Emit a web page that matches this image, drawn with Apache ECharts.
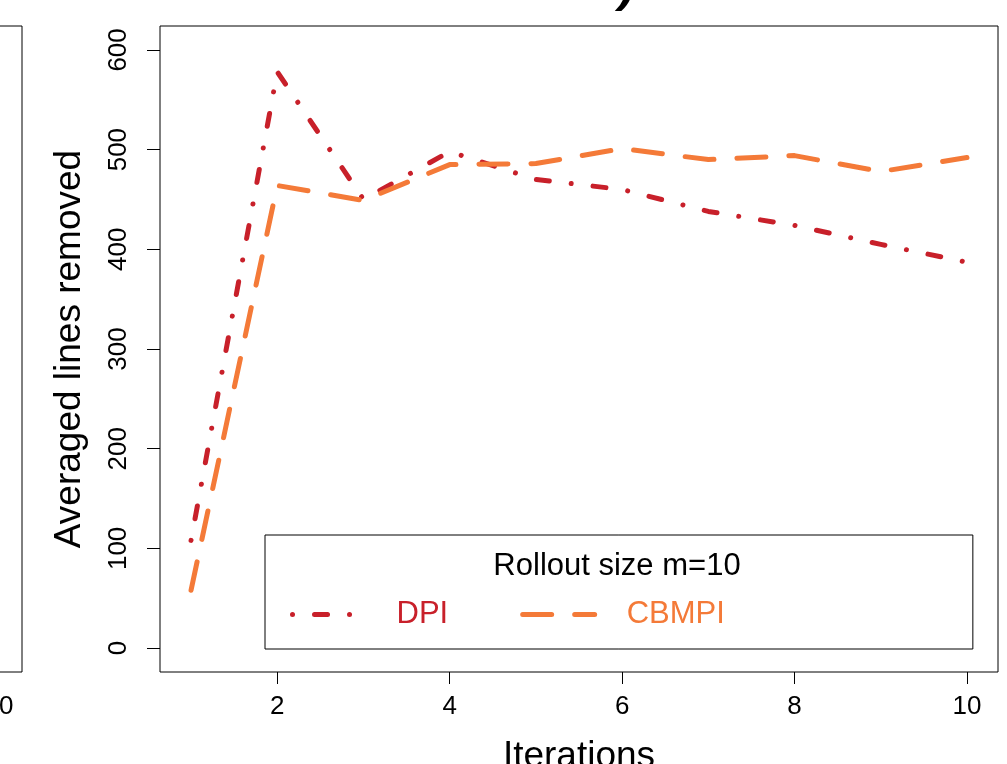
<!DOCTYPE html>
<html>
<head>
<meta charset="utf-8">
<script src="https://cdn.jsdelivr.net/npm/echarts@6/dist/echarts.min.js"></script>
<style>
html,body{margin:0;padding:0;background:#fff;}
#chart{width:1007px;height:764px;}
</style>
</head>
<body>
<div id="chart"></div>
<script>
const iterations = [1, 2, 3, 4, 5, 6, 7, 8, 9, 10];
const dpiValues = [108, 578, 450, 498, 470, 460, 438, 424, 405, 387];
const cbmpiValues = [58, 464, 449, 485, 486, 501, 490, 494, 478, 492];
const xTicks = [2, 4, 6, 8, 10];
const yTicks = [0, 100, 200, 300, 400, 500, 600];
const leftPanelXTicks = [10];
const seriesNames = ['DPI', 'CBMPI'];
const legendTitle = 'Rollout size m=10';
const xTitle = 'Iterations';
const yTitle = 'Averaged lines removed';

const RED = '#C8202A';
const ORANGE = '#F47A38';
const FONT = '"Liberation Sans", Arial, Helvetica, sans-serif';

const chart = echarts.init(document.getElementById('chart'), null, {renderer: 'canvas'});

const option = {
  backgroundColor: '#fff',
  animation: false,
  textStyle: {fontFamily: FONT, color: '#000'},
  title: [
    {
      text: legendTitle,
      left: 617, top: 551, textAlign: 'center', padding: 0,
      textStyle: {fontFamily: FONT, fontSize: 31, fontWeight: 'normal', color: '#000'}
    },
    {
      text: ')',
      left: 619, top: -36, padding: 0,
      textStyle: {fontFamily: FONT, fontSize: 48, fontWeight: 'bold', fontStyle: 'italic', color: '#000'}
    }
  ],
  grid: [
    {left: 160, right: 9, top: 26, bottom: 92, show: true, borderColor: '#000', borderWidth: 1,
     backgroundColor: 'transparent', containLabel: false, outerBoundsMode: 'none'},
    {left: -599, right: 985, top: 26, bottom: 92, show: true, borderColor: '#000', borderWidth: 1,
     backgroundColor: 'transparent', containLabel: false, outerBoundsMode: 'none'}
  ],
  xAxis: [
    {
      type: 'value', gridIndex: 0, min: 0.64, max: 10.36, position: 'bottom',
      name: xTitle, nameLocation: 'middle', nameGap: 66,
      nameTextStyle: {fontFamily: FONT, fontSize: 37, color: '#000'},
      axisLine: {show: false, onZero: false},
      axisTick: {show: true, length: 12, inside: false, customValues: xTicks, lineStyle: {color: '#000', width: 1}},
      axisLabel: {show: true, customValues: xTicks, margin: 22, fontFamily: FONT, fontSize: 26, color: '#000'},
      splitLine: {show: false}
    },
    {
      type: 'value', gridIndex: 1, min: 0.64, max: 10.36, position: 'bottom',
      axisLine: {show: false, onZero: false},
      axisTick: {show: true, length: 12, inside: false, customValues: leftPanelXTicks, lineStyle: {color: '#000', width: 1}},
      axisLabel: {show: true, customValues: leftPanelXTicks, margin: 22, fontFamily: FONT, fontSize: 26, color: '#000'},
      splitLine: {show: false}
    }
  ],
  yAxis: [
    {
      type: 'value', gridIndex: 0, min: -24, max: 624, position: 'left',
      name: yTitle, nameLocation: 'middle', nameGap: 72, nameRotate: 90,
      nameTextStyle: {fontFamily: FONT, fontSize: 37, color: '#000'},
      axisLine: {show: false, onZero: false},
      axisTick: {show: true, length: 13, inside: false, customValues: yTicks, lineStyle: {color: '#000', width: 1}},
      axisLabel: {show: true, customValues: yTicks, rotate: 90, margin: 28, fontFamily: FONT, fontSize: 26, color: '#000'},
      splitLine: {show: false}
    },
    {
      type: 'value', gridIndex: 1, min: -24, max: 624, position: 'left',
      axisLine: {show: false, onZero: false}, axisTick: {show: false}, axisLabel: {show: false}, splitLine: {show: false}
    }
  ],
  legend: {
    left: 265, top: 535,
    orient: 'horizontal',
    padding: [64, 248, 19, 25],
    borderColor: '#000', borderWidth: 1,
    itemWidth: 72, itemHeight: 14, itemGap: 72,
    itemStyle: {opacity: 0, borderWidth: 0},
    lineStyle: {width: 5, cap: 'round'},
    textStyle: {fontFamily: FONT, fontSize: 31, padding: [0, 0, 0, 27]},
    data: [
      {name: seriesNames[0], textStyle: {color: RED}},
      {name: seriesNames[1], textStyle: {color: ORANGE}}
    ]
  },
  series: [
    {
      name: seriesNames[0], type: 'line', xAxisIndex: 0, yAxisIndex: 0,
      data: iterations.map((x, i) => [x, dpiValues[i]]),
      symbol: 'none', color: RED,
      lineStyle: {color: RED, width: 5, type: [0.01, 22, 13, 22], cap: 'round', join: 'round'}
    },
    {
      name: seriesNames[1], type: 'line', xAxisIndex: 0, yAxisIndex: 0,
      data: iterations.map((x, i) => [x, cbmpiValues[i]]),
      symbol: 'none', color: ORANGE,
      lineStyle: {color: ORANGE, width: 5, type: [29, 23], cap: 'round', join: 'round'}
    }
  ]
};
chart.setOption(option);
</script>
</body>
</html>
